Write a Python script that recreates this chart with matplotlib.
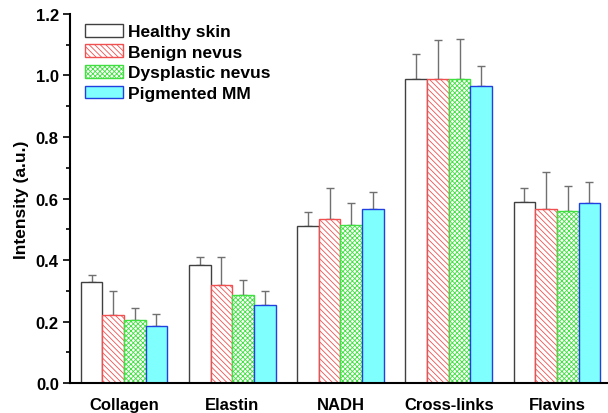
import matplotlib.pyplot as plt
import numpy as np

plt.rcParams['font.family'] = ['Liberation Sans', 'DejaVu Sans']
plt.rcParams['font.weight'] = 'bold'
plt.rcParams['hatch.linewidth'] = 0.6

categories = ['Collagen', 'Elastin', 'NADH', 'Cross-links', 'Flavins']
groups = ['Healthy skin', 'Benign nevus', 'Dysplastic nevus', 'Pigmented MM']

healthy = [0.33, 0.385, 0.51, 0.99, 0.59]
benign = [0.22, 0.32, 0.535, 0.99, 0.565]
dysplastic = [0.205, 0.285, 0.515, 0.99, 0.56]
pigmented = [0.185, 0.255, 0.565, 0.965, 0.585]

healthy_err = [0.02, 0.025, 0.045, 0.08, 0.045]
benign_err = [0.08, 0.09, 0.10, 0.125, 0.12]
dysplastic_err = [0.04, 0.05, 0.07, 0.13, 0.08]
pigmented_err = [0.04, 0.045, 0.055, 0.065, 0.07]

values = [healthy, benign, dysplastic, pigmented]
errors = [healthy_err, benign_err, dysplastic_err, pigmented_err]
faces = ['white', 'white', 'white', '#80ffff']
edges = ['#404040', '#f05050', '#40e040', '#2040e0']
hatches = [None, '\\\\\\\\\\\\', 'xxxxxxx', None]

fig = plt.figure(figsize=(6.08, 4.14), dpi=100)
ax = fig.add_axes([0.115, 0.072, 0.89, 0.892])

x = np.arange(len(categories))
w = 0.2
for i in range(4):
    pos = x + (i - 1.5) * w
    ax.bar(pos, values[i], w, color=faces[i], edgecolor=edges[i], hatch=hatches[i],
           linewidth=1.0, label=groups[i], zorder=2)
    ax.errorbar(pos, values[i], yerr=[np.zeros(5), errors[i]], fmt='none',
                ecolor='#707070', elinewidth=1.0, capsize=3, capthick=1.0, zorder=1)

ax.set_xlim(-0.5, 4.5)
ax.set_ylim(0, 1.2)
ax.set_yticks(np.arange(0, 1.21, 0.2))
ax.set_yticks(np.arange(0.1, 1.2, 0.2), minor=True)
ax.set_xticks(x)
ax.set_xticklabels(categories, fontsize=12)
ax.tick_params(axis='x', length=0, pad=10)
ax.tick_params(axis='y', which='major', length=5, width=1.2, labelsize=12, pad=3)
ax.tick_params(axis='y', which='minor', length=3, width=1.2)
ax.set_ylabel('Intensity (a.u.)', fontsize=12.5, fontweight='bold', labelpad=5)
ax.spines['top'].set_visible(False)
ax.spines['right'].set_visible(False)
ax.spines['left'].set_linewidth(1.5)
ax.spines['bottom'].set_linewidth(1.5)

ax.legend(loc='upper left', bbox_to_anchor=(0.005, 1.006), frameon=False, fontsize=12.5,
          handlelength=2.2, handleheight=0.75, labelspacing=0.3, handletextpad=0.3,
          borderaxespad=0.3)

fig.savefig('out.png', dpi=100)
